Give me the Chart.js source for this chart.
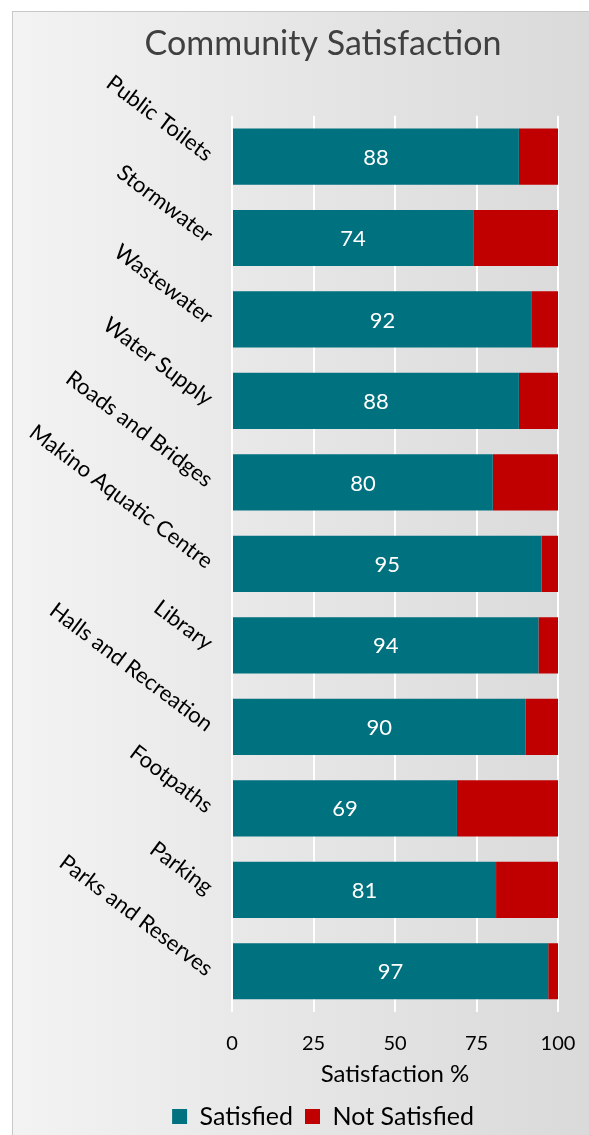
<!DOCTYPE html>
<html>
<head>
<meta charset="utf-8">
<script src="https://cdn.jsdelivr.net/npm/chart.js@4"></script>
<style>
  html, body { margin: 0; padding: 0; background: #ffffff; overflow: hidden; }
  #frame {
    position: absolute; left: 12px; top: 11px; width: 620px; height: 1140px;
    border: 1px solid #c8c8c8;
    background: linear-gradient(to right, #f3f3f3 0%, #e6e6e6 45%, #d8d8d8 100%);
  }
  #wrap { position: absolute; left: 0; top: 0; width: 620px; height: 1127px; }
</style>
</head>
<body>
<div id="frame"><div id="wrap"><canvas id="chart"></canvas></div></div>
<script>
// Categories and values
const categories = ['Public Toilets', 'Stormwater', 'Wastewater', 'Water Supply', 'Roads and Bridges',
  'Makino Aquatic Centre', 'Library', 'Halls and Recreation', 'Footpaths', 'Parking', 'Parks and Reserves'];
const satisfied = [88, 74, 92, 88, 80, 95, 94, 90, 69, 81, 97];
const notSatisfied = [12, 26, 8, 12, 20, 5, 6, 10, 31, 19, 3];
const xTicks = [0, 25, 50, 75, 100];

const FONT = 'Lato, "Open Sans", sans-serif';
const TEAL = '#00717f';
const RED = '#c00000';

// white numbers in the middle of the teal bars
const barLabels = {
  id: 'barLabels',
  afterDatasetsDraw(chart) {
    const ctx = chart.ctx;
    const meta = chart.getDatasetMeta(0);
    ctx.save();
    ctx.font = '22px ' + FONT;
    ctx.fillStyle = '#ffffff';
    ctx.textAlign = 'center';
    ctx.textBaseline = 'middle';
    meta.data.forEach((bar, i) => {
      ctx.fillText(String(satisfied[i]), (bar.x + bar.base) / 2, bar.y + 1);
    });
    ctx.restore();
  }
};

new Chart(document.getElementById('chart'), {
  type: 'bar',
  data: {
    labels: categories,
    datasets: [
      { label: 'Satisfied', data: satisfied, backgroundColor: TEAL, barPercentage: 0.69, categoryPercentage: 1 },
      { label: 'Not Satisfied', data: notSatisfied, backgroundColor: RED, barPercentage: 0.69, categoryPercentage: 1 }
    ]
  },
  options: {
    indexAxis: 'y',
    responsive: true,
    maintainAspectRatio: false,
    animation: false,
    layout: { padding: 0 },
    plugins: {
      title: {
        display: true,
        text: 'Community Satisfaction',
        color: '#404040',
        font: { family: FONT, size: 34, weight: 'normal' },
        padding: { top: 12, bottom: 51 }
      },
      legend: {
        position: 'bottom',
        labels: {
          color: '#000000',
          font: { family: FONT, size: 25 },
          boxWidth: 15,
          boxHeight: 15,
          padding: 12
        }
      },
      tooltip: { enabled: false }
    },
    scales: {
      x: {
        stacked: true,
        min: 0,
        max: 100,
        afterBuildTicks(scale) { scale.ticks = xTicks.map(v => ({ value: v })); },
        grid: { color: '#ffffff', lineWidth: 2, drawTicks: false },
        border: { display: false },
        ticks: { color: '#000000', font: { family: FONT, size: 20 }, padding: 20 },
        title: {
          display: true,
          text: 'Satisfaction %',
          color: '#000000',
          font: { family: FONT, size: 24 },
          padding: { top: 0, bottom: 3 }
        },
        afterFit(scale) {
          scale.height = 80;
          scale.paddingRight = 75;
        }
      },
      y: {
        stacked: true,
        grid: { display: false, drawTicks: false },
        border: { display: false },
        ticks: {
          color: '#000000',
          font: { family: FONT, size: 22 },
          minRotation: -37,
          maxRotation: -37,
          padding: 22,
          autoSkip: false
        },
        afterFit(scale) { scale.width = 219; }
      }
    }
  },
  plugins: [barLabels]
});
</script>
</body>
</html>
